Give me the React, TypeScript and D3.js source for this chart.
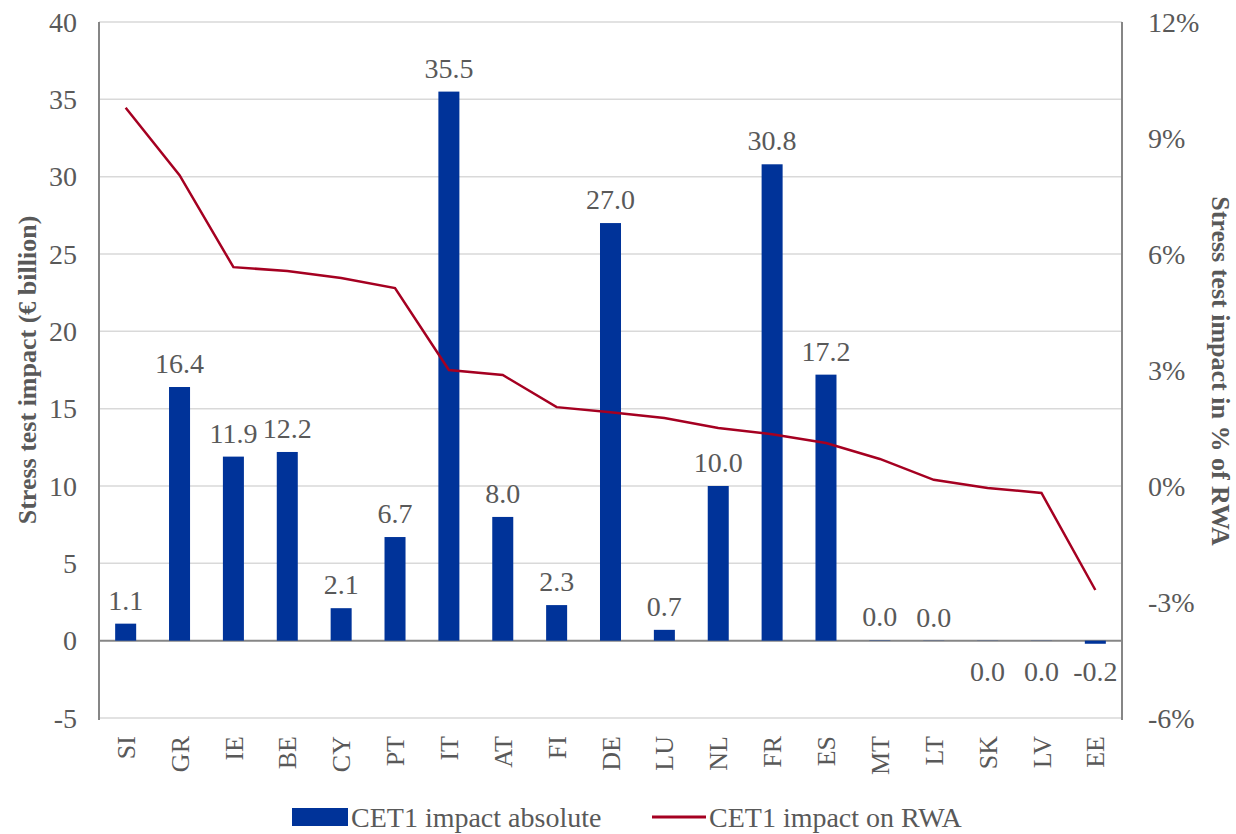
import React from "react";
import * as d3 from "d3";

const categories = ["SI","GR","IE","BE","CY","PT","IT","AT","FI","DE","LU","NL","FR","ES","MT","LT","SK","LV","EE"];
const absValues = [1.1,16.4,11.9,12.2,2.1,6.7,35.5,8.0,2.3,27.0,0.7,10.0,30.8,17.2,0.02,0.01,-0.01,-0.01,-0.2];
const rwaValues = [9.78,8.04,5.66,5.56,5.38,5.12,3.0,2.87,2.04,1.91,1.76,1.5,1.34,1.11,0.7,0.16,-0.05,-0.18,-2.69];
const leftTicks = [-5,0,5,10,15,20,25,30,35,40];
const rightTicks = [-6,-3,0,3,6,9,12];

const W = 1236, H = 834;
const M = { left: 99, right: 1122, top: 22, bottom: 718 };
const FONT = "'Liberation Serif', 'Times New Roman', serif";
const TXT = "#595959";

export default function App() {
  const x = d3.scaleBand<string>().domain(categories).range([M.left, M.right]).paddingInner(0.61).paddingOuter(0.3);
  const y = d3.scaleLinear().domain([-5, 40]).range([M.bottom, M.top]);
  const y2 = d3.scaleLinear().domain([-6, 12]).range([M.bottom, M.top]);
  const line = d3.line<number>().x((_, i) => (x(categories[i]) as number) + x.bandwidth() / 2).y(d => y2(d));
  const fmt = (v: number) => (Math.abs(v) < 0.05 ? "0.0" : v.toFixed(1));
  return (
    <svg width={W} height={H} style={{ position: "absolute", left: 0, top: 0, background: "#fff" }} fontFamily={FONT}>
      {leftTicks.map(t => (
        <g key={t}>
          <line x1={M.left} x2={M.right} y1={y(t)} y2={y(t)} stroke={t === 0 ? "#868686" : "#d9d9d9"} strokeWidth={t === 0 ? 2 : 1.5} />
          <text x={77} y={y(t)} dy="0.35em" textAnchor="end" fontSize={28} fill={TXT}>{t}</text>
        </g>
      ))}
      {rightTicks.map(t => (
        <text key={t} x={1148} y={y2(t)} dy="0.35em" textAnchor="start" fontSize={28} fill={TXT}>{t}%</text>
      ))}
      <line x1={M.left} x2={M.left} y1={M.top} y2={M.bottom + 2} stroke="#868686" strokeWidth={2} />
      <line x1={M.right} x2={M.right} y1={M.top} y2={M.bottom + 2} stroke="#868686" strokeWidth={2} />
      {categories.map((c, i) => {
        const v = absValues[i];
        const bx = x(c) as number;
        const y0 = y(0), yv = y(v);
        const below = v < 0;
        return (
          <g key={c}>
            <rect x={bx} width={x.bandwidth()} y={Math.min(y0, yv)} height={Math.abs(yv - y0)} fill="#003399" />
            <text x={bx + x.bandwidth() / 2} y={below ? y0 + 40 : yv - 14} textAnchor="middle" fontSize={28} fill={TXT}>{fmt(v)}</text>
            <text transform={`translate(${bx + x.bandwidth() / 2},${M.bottom + 18}) rotate(-90)`} dy="0.35em" textAnchor="end" fontSize={26} fill={TXT}>{c}</text>
          </g>
        );
      })}
      <path d={line(rwaValues) || ""} fill="none" stroke="#a50021" strokeWidth={2.5} />
      <text transform={`translate(36,370) rotate(-90)`} textAnchor="middle" fontSize={26} fontWeight="bold" fill={TXT}>Stress test impact (€ billion)</text>
      <text transform={`translate(1212,371) rotate(90)`} textAnchor="middle" fontSize={26} fontWeight="bold" fill={TXT}>Stress test impact in % of RWA</text>
      <rect x={292} y={808} width={56} height={18} fill="#003399" />
      <text x={351} y={827} fontSize={28} fill={TXT}>CET1 impact absolute</text>
      <line x1={652} x2={706} y1={817} y2={817} stroke="#a50021" strokeWidth={3} />
      <text x={709} y={827} fontSize={28} fill={TXT}>CET1 impact on RWA</text>
    </svg>
  );
}
